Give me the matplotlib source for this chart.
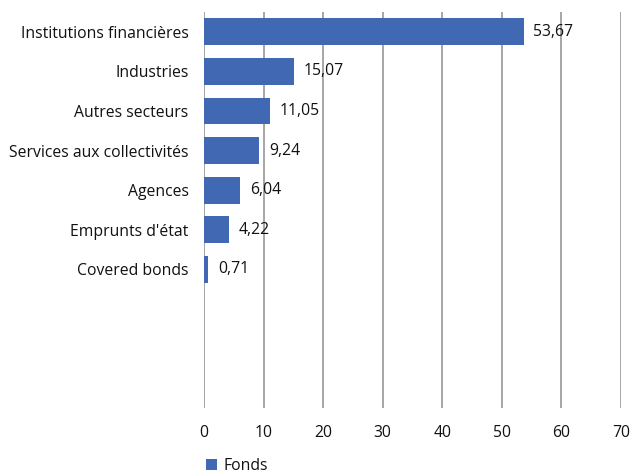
import matplotlib
matplotlib.use("Agg")
import matplotlib.pyplot as plt
import numpy as np

# data
categories = ["Institutions financières", "Industries", "Autres secteurs",
              "Services aux collectivités", "Agences", "Emprunts d'état",
              "Covered bonds"]
values = [53.67, 15.07, 11.05, 9.24, 6.04, 4.22, 0.71]
series_name = "Fonds"
x_ticks = [0, 10, 20, 30, 40, 50, 60, 70]
n_empty_slots = 3

plt.rcParams["font.family"] = ["Open Sans", "DejaVu Sans"]
FS = 11.3
TXT = "#111111"

fig = plt.figure(figsize=(6.33, 4.74), dpi=100)
ax = fig.add_axes([0.3223, 0.1392, 0.6587, 0.8355])

pos = np.arange(len(categories))
bars = ax.barh(pos, values, height=0.68, color="#4169B3", zorder=3,
               label=series_name)

for b, v in zip(bars, values):
    ax.annotate(f"{v:.2f}".replace(".", ","),
                (b.get_width(), b.get_y() + b.get_height() / 2),
                xytext=(7, 0), textcoords="offset points",
                va="center", ha="left", fontsize=FS, color=TXT)

ax.set_ylim(len(categories) + n_empty_slots - 0.5, -0.5)
ax.set_yticks(pos)
ax.set_yticklabels(categories, fontsize=FS, color=TXT)
ax.set_xlim(x_ticks[0], x_ticks[-1])
ax.set_xticks(x_ticks)
ax.set_xticklabels([str(t) for t in x_ticks], fontsize=FS, color=TXT)
ax.tick_params(axis="y", length=0, pad=11)
ax.tick_params(axis="x", length=0, pad=12)
ax.xaxis.grid(True, color="#a6a6a6", linewidth=1.4, zorder=0)
ax.set_axisbelow(True)
for s in ax.spines.values():
    s.set_visible(False)
ax.axvline(0, color="#a6a6a6", linewidth=1.4, zorder=1)

leg = fig.legend(loc="lower left", bbox_to_anchor=(0.303, -0.03), frameon=False,
                 fontsize=FS, handlelength=0.7, handleheight=0.7,
                 handletextpad=0.4)
for t in leg.get_texts():
    t.set_color(TXT)

fig.savefig("out.png", dpi=100)
